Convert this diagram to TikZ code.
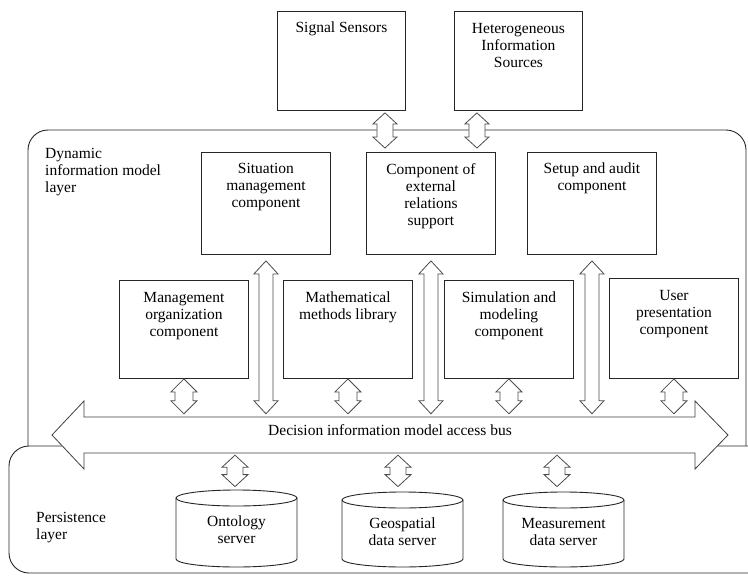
\documentclass[tikz,border=0pt]{standalone}
\usepackage{fontspec}
\setmainfont{Liberation Serif}
\usetikzlibrary{calc}

% Vertical two-headed block arrow.
% #1 shaft half-width, #2 head half-width, #3 head length,
% #4 lower tip (also gives the x position), #5 upper tip
\newcommand\dblarrow[5]{%
  \path[blockarrow] let \p1=#4, \p2=#5 in
    (\x1,\y2) -- (\x1+#2,\y2-#3) -- (\x1+#1,\y2-#3) -- (\x1+#1,\y1+#3)
    -- (\x1+#2,\y1+#3) -- (\x1,\y1) -- (\x1-#2,\y1+#3) -- (\x1-#1,\y1+#3)
    -- (\x1-#1,\y2-#3) -- (\x1-#2,\y2-#3) -- cycle;}

% Database cylinder: #1 node name, #2 centre x, #3 top rim y, #4 bottom rim y
\newcommand\dbcyl[4]{%
  \path[cylline] (#2-60.5,#3) -- (#2-60.5,#4)
    arc[start angle=180,end angle=360,x radius=60.5,y radius=8]
    -- (#2+60.5,#3);
  \path[cylline] (#2,#3) ellipse[x radius=60.5,y radius=8];
  \node[inner sep=0pt,minimum width=121pt,minimum height=#3-#4+16pt,anchor=south]
    (#1) at (#2,#4-8) {};}

\tikzset{
  lbl/.style={font=\fontsize{15.5pt}{17pt}\selectfont,inner sep=0pt,align=center},
  box/.style={draw=black!85,line width=0.9pt,fill=white,inner sep=0pt},
  topbox/.style={box,minimum width=128pt,minimum height=99pt,anchor=north west},
  midbox/.style={box,minimum width=129pt,minimum height=102pt,anchor=north west},
  lowbox/.style={box,minimum width=129pt,minimum height=98pt,anchor=north west},
  layer/.style={draw=black!85,line width=0.9pt},
  blockarrow/.style={draw=black!70,line width=0.8pt,fill=white,line join=miter},
  cylline/.style={draw=black!85,line width=0.9pt,fill=white},
}

\begin{document}
\begin{tikzpicture}[x=1pt,y=1pt]
\useasboundingbox (0,0) rectangle (748,-576);

% layers
\path[layer,rounded corners=20pt] (28,-446) -- (28,-130) -- (746,-130) -- (746,-446);
\path[layer,fill=white,rounded corners=20pt] (9,-446) rectangle (790,-573);

\node[lbl,anchor=north west,align=left] (dynlbl) at (45,-148)
  {Dynamic\\information model\\layer};
\node[lbl,anchor=north west,align=left] (perlbl) at (36,-512)
  {Persistence\\layer};

% access bus
\path[blockarrow,draw=black!75] (52,-435) -- (84,-401) -- (84,-417) -- (695,-417)
  -- (695,-401) -- (728,-435) -- (695,-469) -- (695,-453) -- (84,-453)
  -- (84,-469) -- cycle;
\node[inner sep=0pt,minimum width=611pt,minimum height=36pt] (bus) at (389.5,-435) {};
\node[lbl] (buslbl) at (390,-430) {Decision information model access bus};

% external sources
\node[topbox] (sig) at (277,-11) {};
\node[topbox] (het) at (454,-11) {};
\node[lbl,anchor=north] (sigt) at ([yshift=-11pt]sig.north) {Signal Sensors};
\node[lbl,anchor=north] (hett) at ([yshift=-12pt]het.north) {Heterogeneous\\Information\\Sources};

% upper components
\node[midbox] (sit) at (201,-152) {};
\node[midbox] (ext) at (366,-152) {};
\node[midbox] (aud) at (527,-152) {};
\node[lbl,anchor=north] (sitt) at ([yshift=-11pt]sit.north) {Situation\\management\\component};
\node[lbl,anchor=north] (extt) at ([yshift=-11pt]ext.north) {Component of\\external\\relations\\support};
\node[lbl,anchor=north] (audt) at ([yshift=-11pt]aud.north) {Setup and audit\\component};

% lower components
\node[lowbox] (mgt) at (119,-280) {};
\node[lowbox] (mat) at (283,-280) {};
\node[lowbox] (sim) at (444,-280) {};
\node[lowbox,minimum height=100pt] (usr) at (609,-278) {};
\node[lbl,anchor=north] (mgtt) at ([yshift=-12pt]mgt.north) {Management\\organization\\component};
\node[lbl,anchor=north] (matt) at ([yshift=-12pt]mat.north) {Mathematical\\methods library};
\node[lbl,anchor=north] (simt) at ([yshift=-12pt]sim.north) {Simulation and\\modeling\\component};
\node[lbl,anchor=north] (usrt) at ([yshift=-12pt]usr.north) {User\\presentation\\component};

% storage servers
\dbcyl{ont}{236.5}{-498}{-559}
\dbcyl{geo}{402.5}{-500}{-559}
\dbcyl{mea}{563.5}{-500}{-559}
\node[lbl,anchor=north] (ontt) at (236.5,-516) {Ontology\\server};
\node[lbl,anchor=north] (geot) at (402.5,-518) {Geospatial\\data server};
\node[lbl,anchor=north] (meat) at (563.5,-518) {Measurement\\data server};

% sources <-> external relations component
\dblarrow{8pt}{12pt}{11pt}{($(ext.north)+(-46pt,4pt)$)}{($(sig.south)+(0,-2pt)$)}
\dblarrow{8pt}{12pt}{11pt}{($(ext.north)+(46pt,4pt)$)}{($(het.south)+(0,-2pt)$)}

% bus <-> upper components
\dblarrow{7pt}{12pt}{13pt}{($(bus.north -| sit.south)+(0,3pt)$)}{($(sit.south)+(0,-6pt)$)}
\dblarrow{7pt}{12pt}{13pt}{($(bus.north -| ext.south)+(0,3pt)$)}{($(ext.south)+(0,-6pt)$)}
\dblarrow{7pt}{12pt}{13pt}{($(bus.north -| aud.south)+(0,3pt)$)}{($(aud.south)+(0,-6pt)$)}

% bus <-> lower components
\dblarrow{9pt}{13pt}{13pt}{($(bus.north -| mgt.south)+(0,3pt)$)}{(mgt.south)}
\dblarrow{9pt}{13pt}{13pt}{($(bus.north -| mat.south)+(0,3pt)$)}{(mat.south)}
\dblarrow{9pt}{13pt}{13pt}{($(bus.north -| sim.south)+(0,3pt)$)}{(sim.south)}
\dblarrow{9pt}{13pt}{13pt}{($(bus.north -| usr.south)+(0,3pt)$)}{(usr.south)}

% bus <-> storage servers
\dblarrow{8pt}{13pt}{12pt}{($(ont.north)+(-1.5pt,3pt)$)}{($(bus.south -| ont.north)+(-1.5pt,-2pt)$)}
\dblarrow{8pt}{13pt}{12pt}{($(geo.north)+(-4.5pt,5pt)$)}{($(bus.south -| geo.north)+(-4.5pt,-2pt)$)}
\dblarrow{8pt}{13pt}{12pt}{($(mea.north)+(-6.5pt,5pt)$)}{($(bus.south -| mea.north)+(-6.5pt,-2pt)$)}
\end{tikzpicture}
\end{document}
